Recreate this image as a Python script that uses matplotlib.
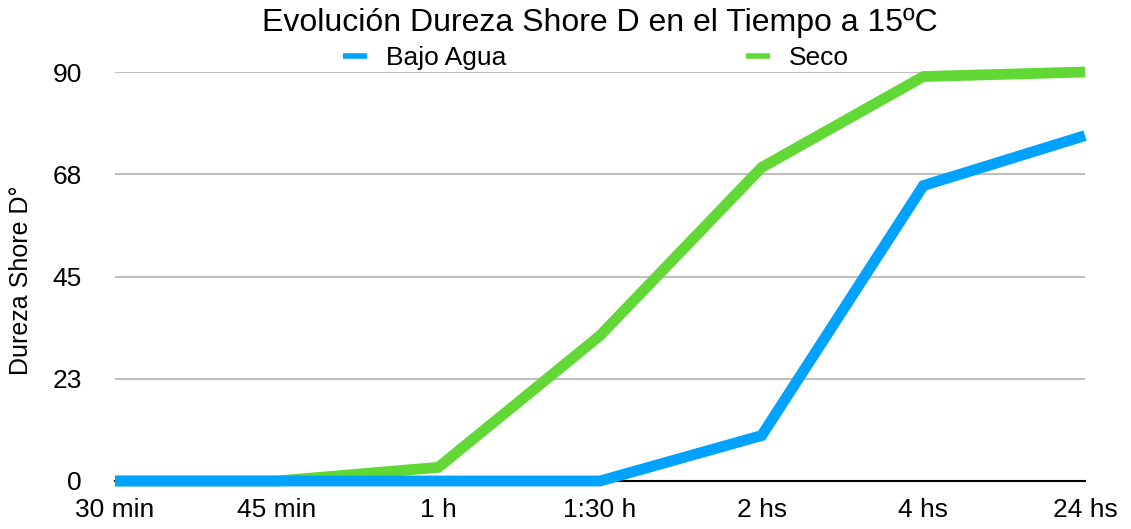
import matplotlib
matplotlib.use("Agg")
import matplotlib.pyplot as plt
from matplotlib.lines import Line2D

categories = ["30 min", "45 min", "1 h", "1:30 h", "2 hs", "4 hs", "24 hs"]
bajo_agua = [0, 0, 0, 0, 10, 65, 76]
seco = [0, 0, 3, 32, 69, 89, 90]
y_ticks = [0, 22.5, 45, 67.5, 90]
y_tick_labels = ["0", "23", "45", "68", "90"]

BLUE = "#00A2FF"
GREEN = "#61D836"

plt.rcParams['font.family'] = ['Liberation Sans', 'DejaVu Sans']

W, H = 1131, 529
fig = plt.figure(figsize=(W / 100, H / 100), dpi=100)
ax = fig.add_axes([115 / W, 48 / H, (1085 - 115) / W, (481 - 72) / H])

x = list(range(len(categories)))
ax.plot(x, seco, color=GREEN, lw=7.8, solid_capstyle='butt', solid_joinstyle='miter', zorder=3, clip_on=False)
ax.plot(x, bajo_agua, color=BLUE, lw=7.8, solid_capstyle='butt', solid_joinstyle='miter', zorder=4, clip_on=False)

ax.set_xlim(0, len(categories) - 1)
ax.set_ylim(0, 90)
ax.set_xticks(x)
ax.set_xticklabels(categories, fontsize=19)
ax.set_yticks(y_ticks)
ax.set_yticklabels(y_tick_labels, fontsize=19)
ax.tick_params(axis='both', length=0)
ax.tick_params(axis='y', pad=24)
ax.tick_params(axis='x', pad=12)

for s in ['top', 'right', 'left']:
    ax.spines[s].set_visible(False)
ax.spines['bottom'].set_color('black')
ax.spines['bottom'].set_linewidth(1.5)
ax.spines['bottom'].set_zorder(2)

ax.yaxis.grid(True, color='#BFBFBF', lw=1.5)
ax.set_axisbelow(True)

ax.set_ylabel("Dureza Shore D°", fontsize=18)
ax.yaxis.set_label_coords(-82 / 970, 0.49)

fig.text(600 / W, 1 - 23 / H, "Evolución Dureza Shore D en el Tiempo a 15ºC",
         ha='center', va='center', fontsize=23)

handles = [Line2D([], [], color=BLUE, lw=4, solid_capstyle='butt'),
           Line2D([], [], color=GREEN, lw=4, solid_capstyle='butt')]
fig.legend(handles, ["Bajo Agua", "Seco"], loc='center', ncol=2,
           bbox_to_anchor=(596 / W, 1 - 58 / H), frameon=False, fontsize=19,
           handlelength=0.9, handletextpad=0.72, columnspacing=9.1,
           borderpad=0, borderaxespad=0)

fig.savefig("out.png", dpi=100)
